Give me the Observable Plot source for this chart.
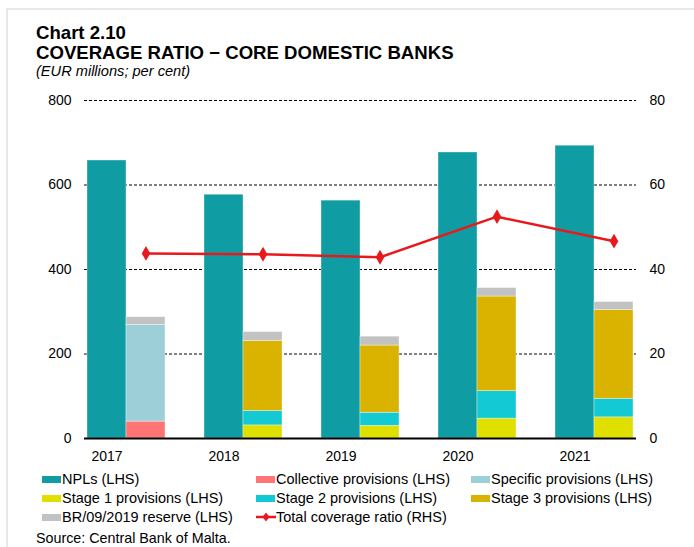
<!DOCTYPE html>
<html><head><meta charset="utf-8">
<script src="https://cdn.jsdelivr.net/npm/d3@7"></script>
<script src="https://cdn.jsdelivr.net/npm/@observablehq/plot@0.6"></script>
<style>
body{margin:0;background:#fff;font-family:"Liberation Sans",Arial,sans-serif;color:#000;width:694px;height:547px;overflow:hidden;position:relative;}
#frame{position:absolute;left:6px;top:8px;width:720px;height:600px;border-left:2px solid #e8e8e8;border-top:2px solid #e8e8e8;}
.t{position:absolute;left:36px;white-space:nowrap;line-height:1;}
#t1{top:24px;font-weight:bold;font-size:18.6px;}
#t2{top:44px;font-weight:bold;font-size:18.6px;}
#t3{top:64px;font-style:italic;font-size:14.6px;}
#chart{position:absolute;left:0;top:80px;}
.lg{position:absolute;font-size:14.5px;line-height:1;white-space:nowrap;}
.sw{position:absolute;width:19px;height:7px;}
#src{position:absolute;left:36px;top:531px;font-size:14.3px;line-height:1;}
</style></head>
<body>
<div id="frame"></div>
<div class="t" id="t1">Chart 2.10</div>
<div class="t" id="t2">COVERAGE RATIO − CORE DOMESTIC BANKS</div>
<div class="t" id="t3">(EUR millions; per cent)</div>
<div id="chart"></div>
<div id="legend"></div>
<div id="src">Source: Central Bank of Malta.</div>
<script>
const years = ["2017","2018","2019","2020","2021"];
const npls = [658, 577, 563, 677, 693];
const collective = [40, 0, 0, 0, 0];
const specific = [229, 0, 0, 0, 0];
const stage1 = [0, 31, 30, 47, 50];
const stage2 = [0, 34, 31, 65, 44];
const stage3 = [0, 166, 159, 224, 210];
const reserve = [18, 21, 21, 20, 19];
const ratio = [43.8, 43.6, 42.9, 52.5, 46.7];
const seriesNames = ["NPLs (LHS)","Collective provisions (LHS)","Specific provisions (LHS)","Stage 1 provisions (LHS)","Stage 2 provisions (LHS)","Stage 3 provisions (LHS)","BR/09/2019 reserve (LHS)","Total coverage ratio (RHS)"];
const seriesColors = ["#109ca3","#ff7474","#9dcfd8","#dfdf00","#13cad4","#dab200","#c2c2c2","#e8191c"];
const leftTicks = [0,200,400,600,800];

// slots: NPL bar, provisions bar, gap
const slots = years.flatMap((y,i) => i < years.length-1 ? [y+"N", y+"P", y+"G"] : [y+"N", y+"P"]);
const nplData = years.map((y,i) => ({slot: y+"N", v: npls[i], s: seriesNames[0]}));
const provArrays = [collective, specific, stage1, stage2, stage3, reserve];
const provData = [];
years.forEach((y,i) => provArrays.forEach((arr,k) => { if (arr[i] > 0) provData.push({slot: y+"P", v: arr[i], s: seriesNames[k+1]}); }));
const lineData = years.map((y,i) => ({slot: y+"P", v: ratio[i]}));
const scaleR = 10; // right axis 0-80 mapped onto left 0-800

const plot = Plot.plot({
  width: 694, height: 388,
  marginTop: 20, marginBottom: 30, marginLeft: 84, marginRight: 58,
  style: {fontFamily: '"Liberation Sans",Arial,sans-serif', fontSize: "14px", color: "#000", background: "transparent", overflow: "visible"},
  x: {type: "band", domain: slots, padding: 0, axis: null},
  y: {domain: [0, 800], axis: null},
  color: {domain: seriesNames, range: seriesColors},
  marks: [
    Plot.ruleY([200,400,600,800], {stroke: "#000", strokeWidth: 1, strokeDasharray: "3,2"}),
    Plot.barY(nplData, {x: "slot", y: "v", fill: "s", stroke: "#fff", strokeOpacity: 0.5, strokeWidth: 0.7}),
    Plot.barY(provData, {x: "slot", y: "v", fill: "s", stroke: "#fff", strokeOpacity: 0.5, strokeWidth: 0.7}),
    Plot.ruleY([0], {stroke: "#000", strokeWidth: 2}),
    Plot.axisX({ticks: years.map(y => y+"N"), tickFormat: d => d.slice(0,4), tickSize: 0, tickPadding: 13, label: null, fontSize: 14}),
    Plot.axisY({ticks: leftTicks, anchor: "left", tickSize: 0, tickPadding: 13, label: null, fontSize: 14}),
    Plot.axisY({ticks: leftTicks, anchor: "right", tickSize: 0, tickPadding: 13, label: null, tickFormat: d => d/scaleR, fontSize: 14}),
    Plot.line(lineData, {x: "slot", y: d => d.v*scaleR, stroke: seriesColors[7], strokeWidth: 2.5}),
    Plot.dot(lineData, {x: "slot", y: d => d.v*scaleR, symbol: "diamond", r: 4.5, fill: seriesColors[7]})
  ]
});
document.getElementById("chart").appendChild(plot);

// legend
const lg = document.getElementById("legend");
const colX = [42, 256, 471];
const rowY = [479, 498, 517];
seriesNames.forEach((name, i) => {
  const cx = colX[i % 3], cy = rowY[Math.floor(i / 3)];
  if (i === 7) {
    const svg = `<svg style="position:absolute;left:${cx}px;top:${cy-6}px" width="20" height="12"><line x1="0" y1="6" x2="20" y2="6" stroke="${seriesColors[i]}" stroke-width="2.5"/><path d="M10,1.5L13.5,6L10,10.5L6.5,6Z" fill="${seriesColors[i]}"/></svg>`;
    lg.insertAdjacentHTML("beforeend", svg);
  } else {
    lg.insertAdjacentHTML("beforeend", `<div class="sw" style="left:${cx}px;top:${cy-3}px;background:${seriesColors[i]}"></div>`);
  }
  lg.insertAdjacentHTML("beforeend", `<div class="lg" style="left:${cx+20}px;top:${cy-7}px">${name}</div>`);
});
</script>
</body></html>
